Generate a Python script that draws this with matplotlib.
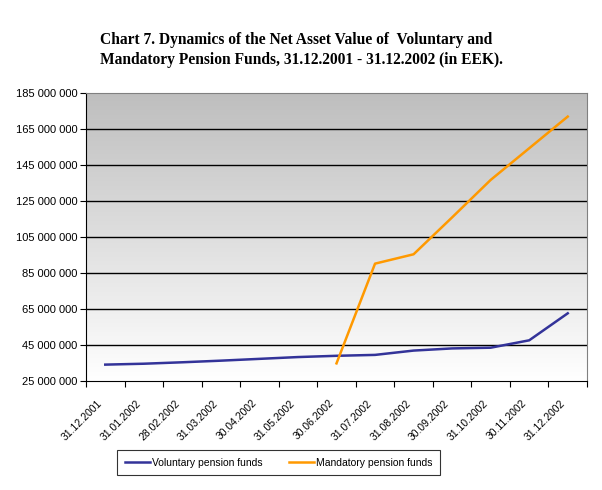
import matplotlib
matplotlib.use("Agg")
import matplotlib.pyplot as plt
import matplotlib.transforms as mtransforms
import numpy as np

dates = ["31.12.2001", "31.01.2002", "28.02.2002", "31.03.2002", "30.04.2002",
         "31.05.2002", "30.06.2002", "31.07.2002", "31.08.2002", "30.09.2002",
         "31.10.2002", "30.11.2002", "31.12.2002"]
voluntary = [34.1, 34.6, 35.4, 36.3, 37.3, 38.3, 39.0, 39.5, 41.9, 43.1, 43.5, 47.6, 62.6]
mandatory = [None, None, None, None, None, None, 34.8, 90.2, 95.4, 115.9, 136.7, 154.3, 171.9]

fig = plt.figure(figsize=(6.02, 4.90), dpi=100)
ax = fig.add_axes([86/602, 1-381/490, 501/602, 288/490])

n = len(dates)
x = np.arange(n) + 0.5
ax.set_xlim(0, n)

# gradient background (gray at top, white at bottom)
grad = np.linspace(0, 1, 256).reshape(-1, 1)
top = np.array([190, 190, 190]) / 255
bot = np.array([255, 255, 255]) / 255
img = (top + (bot - top) * grad[..., None]).reshape(256, 1, 3)
ax.imshow(img, extent=[0, n, 25e6, 185e6], origin="upper", aspect="auto", zorder=0)
ax.set_ylim(25e6, 185e6)

yt = np.arange(25e6, 185e6 + 1, 20e6)
ax.set_yticks(yt)
ax.set_yticklabels([f"{int(v):,}".replace(",", " ") for v in yt], fontsize=8, family="Liberation Sans")
for v in yt[1:-1]:
    ax.axhline(v, color="black", lw=1, zorder=1)

v_arr = np.array(voluntary) * 1e6
m_arr = np.array([np.nan if m is None else m for m in mandatory], dtype=float) * 1e6
ax.plot(x, v_arr, color="#333399", lw=1.8, label="Voluntary pension funds", zorder=3)
ax.plot(x, m_arr, color="#FF9900", lw=1.8, label="Mandatory pension funds", zorder=3)

ax.set_xticks(np.arange(n + 1))
ax.set_xticklabels([])
ax.tick_params(axis="x", which="major", length=4, direction="out", color="black")
ax.tick_params(axis="y", length=4, direction="out", pad=2)

trans = mtransforms.blended_transform_factory(ax.transData, ax.transAxes) + \
    mtransforms.ScaledTranslation(-8/100, -17/100, fig.dpi_scale_trans)
for xi, d in zip(x, dates):
    ax.text(xi, 0, d, transform=trans, rotation=45, rotation_mode="anchor",
            ha="right", va="top", fontsize=7.5, family="Liberation Sans", clip_on=False)

for s in ["left", "bottom"]:
    ax.spines[s].set_color("black")
for s in ["top", "right"]:
    ax.spines[s].set_color("#808080")

fig.text(100/602, 1-40/490, "Chart 7. Dynamics of the Net Asset Value of  Voluntary and",
         fontsize=11.2, fontweight="bold", family="Liberation Serif", va="center")
fig.text(100/602, 1-60/490, "Mandatory Pension Funds, 31.12.2001 - 31.12.2002 (in EEK).",
         fontsize=11.2, fontweight="bold", family="Liberation Serif", va="center")

leg = fig.legend(loc="center", bbox_to_anchor=(278.5/602, 1-462.5/490), ncol=2,
                 prop={"family": "Liberation Sans", "size": 7.5}, frameon=True,
                 fancybox=False, edgecolor="black", handlelength=2.4, handletextpad=0.2,
                 columnspacing=2.5, borderpad=0.75, borderaxespad=0)
leg.get_frame().set_linewidth(0.8)

fig.savefig("out.png", dpi=100)
